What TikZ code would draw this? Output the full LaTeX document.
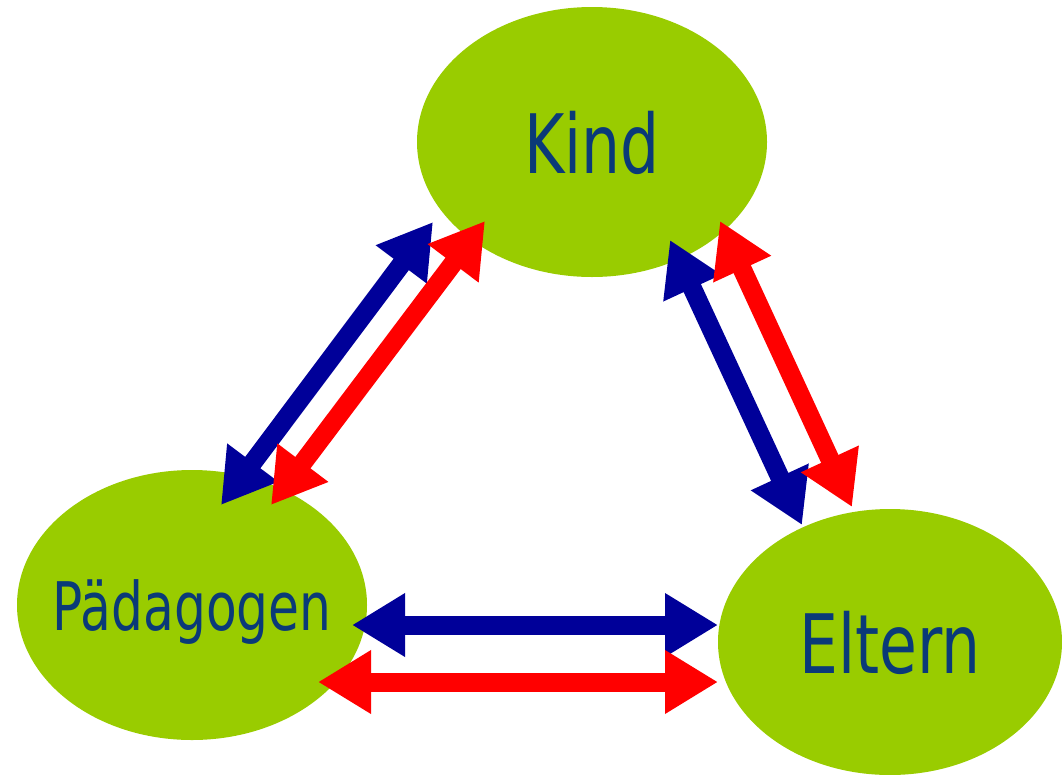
\documentclass[tikz,border=0pt]{standalone}
\usepackage{fontspec}
\usetikzlibrary{arrows.meta,shapes.geometric}
\newfontfamily\lblfont[FakeStretch=0.75]{DejaVu Sans}
\definecolor{leaf}{HTML}{99CC00}
\definecolor{ink}{HTML}{0A3A78}
\definecolor{navyarrow}{HTML}{000099}
\definecolor{redarrow}{HTML}{FF0000}
\begin{document}
\begin{tikzpicture}[x=1pt,y=-1pt,
  blob/.style={ellipse, fill=leaf, draw=none, inner sep=0pt, outer sep=0pt},
  lbl/.style={text=ink, inner sep=0pt, text depth=0pt},
  big/.style={font=\lblfont\fontsize{82}{90}\selectfont},
  mid/.style={font=\lblfont\fontsize{67}{74}\selectfont},
  link/.style={line width=19pt,
    {Triangle[length=53pt,width=60pt]}-{Triangle[length=53pt,width=60pt]}},
]
\useasboundingbox (0,0) rectangle (1062,774);
\clip (0,0) rectangle (1062,774);

% the three parties
\node[blob, minimum width=350, minimum height=270] (kindblob) at (592,142) {};
\node[blob, minimum width=350, minimum height=270] (paedblob) at (192,605) {};
\node[blob, minimum width=344, minimum height=266] (elternblob) at (890,642) {};
\node[lbl, big] (kind) at (kindblob.center) {Kind};
\node[lbl, mid] (paed) at (paedblob.center) {Pädagogen};
\node[lbl, big] (eltern) at (elternblob.center) {Eltern};

% arrow end points
\coordinate (kpB1) at (433,222);
\coordinate (kpB2) at (221,505);
\coordinate (kpR1) at (485,221);
\coordinate (kpR2) at (271,505);
\coordinate (keB1) at (670,240);
\coordinate (keB2) at (802,525);
\coordinate (keR1) at (720,221);
\coordinate (keR2) at (852,507);
\coordinate (peB1) at (352,625);
\coordinate (peB2) at (718,625);
\coordinate (peR1) at (318,682);
\coordinate (peR2) at (718,682);

% two-way relations
\draw[link, navyarrow] (kpB1) -- (kpB2);
\draw[link, redarrow] (kpR1) -- (kpR2);
\draw[link, navyarrow] (keB1) -- (keB2);
\draw[link, redarrow] (keR1) -- (keR2);
\draw[link, navyarrow] (peB1) -- (peB2);
\draw[link, redarrow] (peR1) -- (peR2);
\end{tikzpicture}
\end{document}
